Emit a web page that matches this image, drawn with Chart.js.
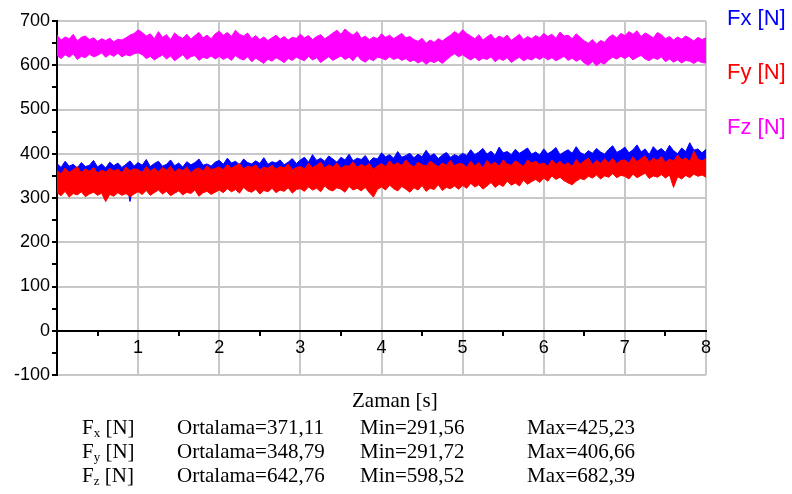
<!DOCTYPE html>
<html>
<head>
<meta charset="utf-8">
<script src="https://cdn.jsdelivr.net/npm/chart.js@4"></script>
<style>
  body { margin: 0; background: #fff; }
  #wrap { position: relative; width: 792px; height: 494px; }
  .leg { position: absolute; left: 727px; font: 22px "Liberation Sans", Arial, sans-serif; line-height: 22px; }
  .st { position: absolute; font: 21px "Liberation Serif", "Times New Roman", serif; line-height: 24px; color: #000; white-space: nowrap; }
  .st sub { font-size: 13px; vertical-align: -3px; line-height: 0; }
</style>
</head>
<body>
<div id="wrap">
  <canvas id="grafico_kuvvet" width="792" height="494"></canvas>
  <div class="leg" style="top:7px;color:#0000ff">Fx [N]</div>
  <div class="leg" style="top:61px;color:#ff0000">Fy [N]</div>
  <div class="leg" style="top:116px;color:#ff00ff">Fz [N]</div>
  <div class="st" style="left:352px;top:388px">Zaman [s]</div>
  <div class="st" style="left:82px;top:415px">F<sub>x</sub> [N]</div>
  <div class="st" style="left:177px;top:415px">Ortalama=371,11</div>
  <div class="st" style="left:360px;top:415px">Min=291,56</div>
  <div class="st" style="left:527px;top:415px">Max=425,23</div>
  <div class="st" style="left:82px;top:439px">F<sub>y</sub> [N]</div>
  <div class="st" style="left:177px;top:439px">Ortalama=348,79</div>
  <div class="st" style="left:360px;top:439px">Min=291,72</div>
  <div class="st" style="left:527px;top:439px">Max=406,66</div>
  <div class="st" style="left:82px;top:463px">F<sub>z</sub> [N]</div>
  <div class="st" style="left:177px;top:463px">Ortalama=642,76</div>
  <div class="st" style="left:360px;top:463px">Min=598,52</div>
  <div class="st" style="left:527px;top:463px">Max=682,39</div>
</div>
<script>
/* kuvvet sinyalleri: her 0.05 s icin okunan tepe (ust) ve dip (alt) degerleri */

const adim_s = 0.05;

const fz_ust = [
    668, 657, 664, 660, 670, 655, 663, 666, 658, 662, 654, 660, 656, 661, 653, 659, 657, 662, 668, 672,
    680, 674, 666, 671, 660, 676, 663, 669, 658, 673, 665, 661, 670, 659, 667, 674, 662, 668, 660, 671,
    677, 668, 674, 665, 679, 670, 666, 673, 660, 667, 658, 664, 656, 662, 668, 659, 665, 657, 663, 661,
    670, 662, 667, 658, 665, 669, 660, 666, 673, 679, 670, 682, 674, 668, 676, 661, 666, 658, 664, 660,
    671, 663, 668, 660, 666, 672, 662, 665, 658, 654, 661, 650, 657, 652, 660, 655, 662, 668, 676, 670,
    680, 672, 666, 660, 669, 657, 664, 670, 659, 666, 661, 668, 656, 663, 670, 658, 665, 660, 667, 662,
    672, 665, 670, 661, 675, 666, 668, 660, 671, 663, 655, 650, 658, 648, 656, 652, 663, 669, 662, 672,
    667, 676, 670, 678, 665, 673, 668, 662, 674, 669, 660, 665, 657, 664, 659, 666, 661, 655, 663, 658,
    662
];
const fz_alt = [
    622, 615, 624, 618, 626, 613, 620, 617, 625, 619, 622, 628, 618, 625, 620, 627, 619, 624, 621, 626,
    628, 624, 615, 620, 612, 618, 623, 614, 621, 610, 617, 624, 613, 619, 622, 611, 618, 615, 621, 614,
    620, 613, 618, 611, 622, 615, 612, 619, 608, 616, 610, 604, 614, 609, 617, 612, 606, 615, 611, 618,
    614, 610, 620, 612, 617, 606, 613, 619, 611, 616, 621, 613, 618, 610, 622, 612, 607, 615, 610, 618,
    616, 612, 619, 613, 617, 611, 615, 608, 612, 605, 610, 602, 609, 606, 611, 604, 612, 620, 626, 619,
    624, 617, 612, 618, 610, 616, 613, 619, 608, 615, 611, 617, 606, 613, 618, 610, 615, 612, 618, 613,
    619, 612, 617, 610, 615, 620, 611, 616, 609, 614, 605, 600, 608, 599, 606, 603, 612, 618, 614, 620,
    615, 621, 612, 618, 622, 614, 610, 617, 613, 619, 608, 614, 607, 612, 605, 611, 609, 604, 610, 606,
    605
];

const fx_ust = [
    378, 369, 383, 372, 376, 368, 380, 371, 374, 385, 370, 377, 368, 381, 373, 379, 369, 376, 384, 372,
    380, 374, 387, 371, 378, 383, 372, 376, 386, 373, 379, 370, 382, 375, 380, 388, 374, 377, 372, 381,
    385, 376, 390, 379, 383, 375, 388, 380, 377, 384, 378, 391, 376, 382, 379, 386, 375, 381, 389, 378,
    386, 392, 381, 398, 385, 390, 383, 395, 388, 381, 392, 386, 399, 384, 390, 387, 396, 382, 391, 388,
    402, 393, 398, 390, 405, 392, 396, 401, 391, 399, 393, 408, 395, 400, 389, 397, 403, 392, 398, 394,
    401, 396, 409, 398, 404, 412, 399, 406, 396, 415, 402, 405, 398, 410, 401, 407, 413, 399, 404, 397,
    411, 400, 406, 414, 398, 404, 409, 401, 416, 403, 398, 407, 401, 412, 404, 399, 410, 418, 403, 408,
    415, 402, 409, 420, 404, 411, 398, 416, 406, 412, 403, 419, 407, 400, 413, 405, 425, 408, 411, 402,
    410
];
const fx_alt = [
    345, 338, 348, 335, 342, 350, 337, 344, 340, 347, 336, 343, 339, 349, 341, 346, 338, 344, 292, 340,
    346, 341, 350, 338, 345, 352, 340, 347, 343, 351, 339, 346, 342, 349, 344, 353, 341, 348, 345, 350,
    352, 345, 355, 348, 350, 357, 346, 353, 349, 356, 347, 352, 344, 354, 350, 358, 348, 355, 351, 353,
    356, 350, 359, 352, 357, 361, 351, 358, 354, 360, 353, 357, 350, 362, 355, 359, 353, 361, 356, 358,
    362, 355, 364, 358, 361, 366, 356, 363, 359, 365, 357, 362, 355, 367, 360, 364, 358, 366, 361, 363,
    367, 360, 369, 363, 366, 371, 361, 368, 364, 370, 362, 367, 360, 372, 365, 369, 363, 371, 366, 368,
    372, 365, 374, 368, 371, 376, 366, 373, 369, 375, 367, 372, 365, 377, 370, 374, 368, 376, 371, 373,
    377, 370, 379, 373, 376, 381, 371, 378, 374, 380, 372, 377, 370, 382, 375, 379, 373, 381, 376, 378,
    376
];

const fy_ust = [
    362, 355, 368, 358, 364, 371, 357, 366, 360, 369, 356, 363, 359, 367, 361, 365, 357, 370, 362, 366,
    364, 358, 371, 361, 367, 360, 369, 363, 372, 359, 366, 362, 370, 357, 365, 368, 361, 373, 364, 367,
    370, 364, 376, 367, 373, 378, 366, 372, 369, 375, 363, 370, 367, 374, 365, 371, 368, 377, 364, 369,
    371, 366, 378, 369, 374, 381, 368, 375, 370, 379, 367, 373, 372, 382, 369, 376, 371, 378, 365, 373,
    378, 371, 384, 374, 380, 373, 386, 376, 370, 381, 375, 372, 383, 377, 371, 379, 374, 385, 373, 378,
    377, 370, 383, 373, 380, 368, 385, 375, 381, 372, 386, 377, 374, 384, 378, 371, 386, 379, 383, 376,
    379, 372, 386, 376, 383, 374, 380, 371, 387, 377, 384, 390, 376, 385, 379, 388, 380, 389, 378, 385,
    386, 379, 393, 382, 389, 395, 381, 390, 385, 394, 380, 388, 383, 397, 386, 391, 382, 406, 388, 384,
    389
];
const fy_alt = [
    312, 305, 315, 302, 310, 307, 314, 303, 309, 313, 306, 311, 292, 308, 304, 312, 306, 310, 303, 309,
    314, 308, 317, 306, 312, 318, 309, 315, 305, 311, 316, 307, 313, 310, 318, 304, 312, 315, 308, 313,
    318, 312, 321, 314, 319, 311, 324, 316, 313, 320, 309, 317, 314, 322, 312, 318, 315, 323, 311, 319,
    321, 315, 325, 318, 322, 314, 327, 319, 316, 323, 320, 313, 326, 318, 322, 316, 324, 312, 302, 319,
    325, 318, 329, 321, 316, 326, 320, 313, 323, 318, 328, 315, 322, 319, 330, 317, 324, 321, 327, 320,
    328, 322, 333, 325, 330, 320, 327, 335, 324, 331, 326, 338, 329, 334, 327, 340, 331, 337, 342, 335,
    345, 338, 350, 342, 347, 339, 334, 330, 338, 344, 341, 349, 345, 352, 343, 350, 347, 355, 346, 351,
    349, 343, 354, 346, 351, 356, 344, 350, 347, 353, 345, 352, 324, 348, 343, 351, 346, 354, 349, 352,
    347
];

const noktalar = (dizi) => dizi.map((v, i) => ({ x: i * adim_s, y: v }));

const seri = (etiket, renk, ust, alt, sira) => [
    { label: etiket, data: noktalar(ust), borderColor: renk, borderWidth: 1, pointRadius: 0, fill: false, order: sira },
    { label: etiket + ' alt', data: noktalar(alt), borderColor: renk, backgroundColor: renk, borderWidth: 1, pointRadius: 0, fill: '-1', order: sira }
];

const data_kuvvet = {
    datasets: [
        ...seri('Fz [N]', '#ff00ff', fz_ust, fz_alt, 3),
        ...seri('Fx [N]', '#0000ff', fx_ust, fx_alt, 2),
        ...seri('Fy [N]', '#ff0000', fy_ust, fy_alt, 1)
    ]
};

const yazi = { family: '"Liberation Sans", Arial, sans-serif', size: 18 };

const config_kuvvet = {
    type: 'line',
    data: data_kuvvet,
    options: {
        responsive: false,
        animation: false,
        devicePixelRatio: 1,
        layout: { padding: { left: 0, top: 21, right: 86, bottom: 119 } },
        elements: { line: { tension: 0 } },
        plugins: { legend: { display: false }, tooltip: { enabled: false } },
        scales: {
            x: {
                type: 'linear',
                position: { y: 0 },
                min: 0,
                max: 8,
                ticks: {
                    stepSize: 0.5,
                    autoSkip: false,
                    maxRotation: 0,
                    color: '#000',
                    font: yazi,
                    padding: 2,
                    callback: (v) => (Number.isInteger(v) && v > 0 ? String(v) : '')
                },
                grid: {
                    color: (c) => (Number.isInteger(c.tick.value) && c.tick.value > 0 ? '#c8c8c8' : 'rgba(0,0,0,0)'),
                    tickColor: (c) => (Number.isInteger(c.tick.value) ? '#c8c8c8' : '#000'),
                    lineWidth: 2,
                    tickLength: 4
                },
                border: { color: '#000', width: 2 }
            },
            y: {
                min: -100,
                max: 700,
                ticks: {
                    stepSize: 50,
                    autoSkip: false,
                    color: '#000',
                    font: yazi,
                    padding: 2,
                    callback: (v) => (v % 100 === 0 ? String(v) : '')
                },
                grid: {
                    color: (c) => (c.tick.value % 100 === 0 && c.tick.value !== 0 ? '#c8c8c8' : 'rgba(0,0,0,0)'),
                    tickColor: '#000',
                    lineWidth: 2,
                    tickLength: 5
                },
                border: { color: '#000', width: 2 },
                afterFit: (scale) => { scale.width = 57; }
            }
        }
    }
};

const grafico_kuvvet = new Chart(
    document.getElementById('grafico_kuvvet'),
    config_kuvvet
);
</script>
</body>
</html>
